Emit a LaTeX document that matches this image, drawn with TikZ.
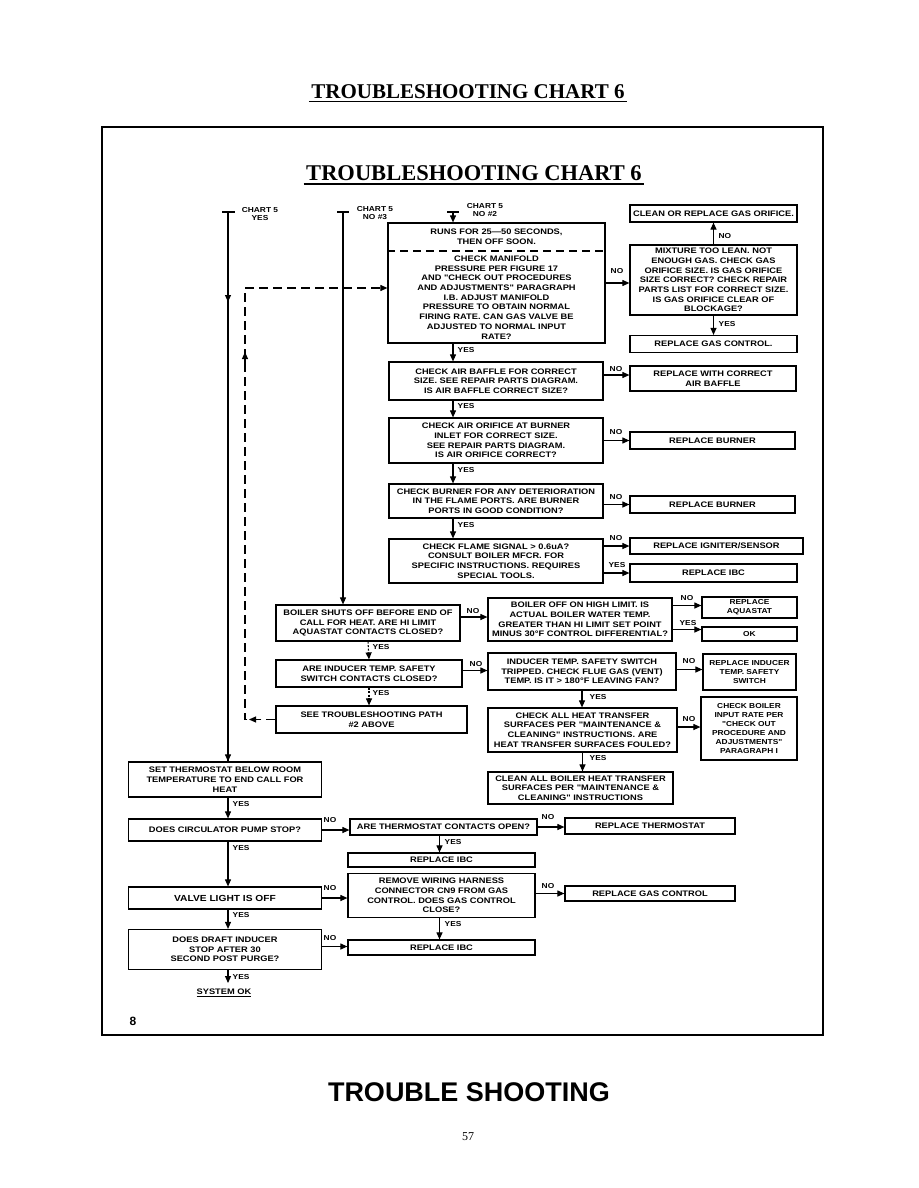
\documentclass[tikz,border=0pt]{standalone}
\usepackage{fontspec}
\setmainfont{Liberation Serif}
\newfontfamily\bxf[FakeStretch=1.16]{Liberation Sans}
\newfontfamily\arialf{Liberation Sans}
\usetikzlibrary{arrows.meta}
\tikzset{
  bx/.style={draw, line width=1.2pt, inner sep=1pt, align=center,
    font=\bxf\bfseries\fontsize{8}{9.7}\selectfont},
  nbx/.style={bx, font=\bxf\bfseries\fontsize{7.2}{9}\selectfont},
  txt/.style={inner sep=0pt, align=center, font=\bxf\bfseries\fontsize{8}{9.7}\selectfont},
  arr/.style={line width=1.05pt, -{Triangle[length=7pt,width=6pt]}},
  ln/.style={line width=1.05pt},
  lbl/.style={inner sep=0.5pt, font=\bxf\bfseries\fontsize{7.2}{8}\selectfont},
}
\begin{document}
\begin{tikzpicture}[x=1pt,y=-1pt]
\useasboundingbox (0,0) rectangle (918,1188);
% page header
\node[font=\bfseries\fontsize{21}{24}\selectfont] (ptitle) at (468,92) {TROUBLESHOOTING CHART 6};
\draw[line width=1.3pt] ([xshift=1pt,yshift=1pt]ptitle.south west) -- ([xshift=-1pt,yshift=1pt]ptitle.south east);
% frame
\draw[line width=1.2pt] (102,127) rectangle (823,1035);
\node[font=\bfseries\fontsize{22.5}{26}\selectfont] (ititle) at (474,173) {TROUBLESHOOTING CHART 6};
\draw[line width=2.4pt] ([xshift=1pt]ititle.south west) -- ([xshift=-1pt]ititle.south east);

% ---------- top-right column ----------
\node[bx, minimum width=217pt, minimum height=120pt] (runs) at (496.5,283) {};
\node[txt] (runsA) at (496.5,237) {RUNS FOR 25—50 SECONDS,\\THEN OFF SOON.};
\node[txt] (runsB) at (496.5,297.5) {CHECK MANIFOLD\\PRESSURE PER FIGURE 17\\AND "CHECK OUT PROCEDURES\\AND ADJUSTMENTS" PARAGRAPH\\I.B. ADJUST MANIFOLD\\PRESSURE TO OBTAIN NORMAL\\FIRING RATE. CAN GAS VALVE BE\\ADJUSTED TO NORMAL INPUT\\RATE?};
\coordinate (sep) at (496.5,251);
\draw[ln, dash pattern=on 8pt off 5pt] (runs.west |- sep) -- (runs.east |- sep);

\node[bx, minimum width=167pt, minimum height=17pt] (clori) at (713.5,213.5) {CLEAN OR REPLACE GAS ORIFICE.};
\node[bx, minimum width=167pt, minimum height=70pt] (mix) at (713.5,280) {MIXTURE TOO LEAN. NOT\\ENOUGH GAS. CHECK GAS\\ORIFICE SIZE. IS GAS ORIFICE\\SIZE CORRECT? CHECK REPAIR\\PARTS LIST FOR CORRECT SIZE.\\IS GAS ORIFICE CLEAR OF\\BLOCKAGE?};
\node[bx, minimum width=167pt, minimum height=17pt] (gasA) at (713.5,344) {REPLACE GAS CONTROL.};

\node[bx, minimum width=214pt, minimum height=38pt] (baffle) at (496,381) {CHECK AIR BAFFLE FOR CORRECT\\SIZE. SEE REPAIR PARTS DIAGRAM.\\IS AIR BAFFLE CORRECT SIZE?};
\node[bx, minimum width=166pt, minimum height=25pt] (repbaf) at (713,378.5) {REPLACE WITH CORRECT\\AIR BAFFLE};
\node[bx, minimum width=214pt, minimum height=45pt] (airori) at (496,440.5) {CHECK AIR ORIFICE AT BURNER\\INLET FOR CORRECT SIZE.\\SEE REPAIR PARTS DIAGRAM.\\IS AIR ORIFICE CORRECT?};
\node[bx, minimum width=165pt, minimum height=17pt] (burA) at (712.5,440.5) {REPLACE BURNER};
\node[bx, minimum width=214pt, minimum height=34pt] (burner) at (496,501) {CHECK BURNER FOR ANY DETERIORATION\\IN THE FLAME PORTS. ARE BURNER\\PORTS IN GOOD CONDITION?};
\node[bx, minimum width=165pt, minimum height=17pt] (burB) at (712.5,504.5) {REPLACE BURNER};
\node[bx, minimum width=214pt, minimum height=44pt] (flame) at (496,561) {CHECK FLAME SIGNAL > 0.6uA?\\CONSULT BOILER MFCR. FOR\\SPECIFIC INSTRUCTIONS. REQUIRES\\SPECIAL TOOLS.};
\node[bx, minimum width=173pt, minimum height=16pt] (ign) at (716.5,546) {REPLACE IGNITER/SENSOR};
\node[bx, minimum width=167pt, minimum height=18pt] (ibcA) at (713.5,573) {REPLACE IBC};

% ---------- middle block ----------
\node[bx, minimum width=184pt, minimum height=36pt] (boiler) at (368,623) {BOILER SHUTS OFF BEFORE END OF\\CALL FOR HEAT. ARE HI LIMIT\\AQUASTAT CONTACTS CLOSED?};
\node[bx, minimum width=184pt, minimum height=43pt] (hilim) at (580,619.5) {BOILER OFF ON HIGH LIMIT. IS\\ACTUAL BOILER WATER TEMP.\\GREATER THAN HI LIMIT SET POINT\\MINUS 30°F CONTROL DIFFERENTIAL?};
\node[nbx, minimum width=95pt, minimum height=21pt] (aqua) at (749.5,607.5) {REPLACE\\AQUASTAT};
\node[nbx, minimum width=95pt, minimum height=14pt] (ok) at (749.5,634) {OK};
\node[bx, minimum width=186pt, minimum height=27pt] (areind) at (369,673.5) {ARE INDUCER TEMP. SAFETY\\SWITCH CONTACTS CLOSED?};
\node[bx, minimum width=188pt, minimum height=37pt] (indtrip) at (582,671.5) {INDUCER TEMP. SAFETY SWITCH\\TRIPPED. CHECK FLUE GAS (VENT)\\TEMP. IS IT > 180°F LEAVING FAN?};
\node[nbx, minimum width=93pt, minimum height=36pt] (repind) at (749.5,672) {REPLACE INDUCER\\TEMP. SAFETY\\SWITCH};
\node[bx, minimum width=191pt, minimum height=27pt] (seets) at (371.5,719.5) {SEE TROUBLESHOOTING PATH\\\#2 ABOVE};
\node[bx, minimum width=189pt, minimum height=44pt] (heat) at (582.5,730) {CHECK ALL HEAT TRANSFER\\SURFACES PER "MAINTENANCE \&\\CLEANING" INSTRUCTIONS. ARE\\HEAT TRANSFER SURFACES FOULED?};
\node[nbx, minimum width=96pt, minimum height=63pt] (chkin) at (749,728.5) {CHECK BOILER\\INPUT RATE PER\\"CHECK OUT\\PROCEDURE AND\\ADJUSTMENTS"\\PARAGRAPH I};
\node[bx, minimum width=185pt, minimum height=32pt] (cleanall) at (580.5,788) {CLEAN ALL BOILER HEAT TRANSFER\\SURFACES PER "MAINTENANCE \&\\CLEANING" INSTRUCTIONS};

% ---------- bottom block ----------
\node[bx, minimum width=193pt, minimum height=35pt] (setth) at (225,779.5) {SET THERMOSTAT BELOW ROOM\\TEMPERATURE TO END CALL FOR\\HEAT};
\node[bx, minimum width=193pt, minimum height=22pt] (circ) at (225,830) {DOES CIRCULATOR PUMP STOP?};
\node[bx, minimum width=187pt, minimum height=16pt] (areth) at (443.5,827) {ARE THERMOSTAT CONTACTS OPEN?};
\node[bx, minimum width=170pt, minimum height=16pt] (repth) at (650,826) {REPLACE THERMOSTAT};
\node[bx, minimum width=187pt, minimum height=14pt] (ibcB) at (441.5,860) {REPLACE IBC};
\node[bx, minimum width=193pt, minimum height=22pt, font=\bxf\bfseries\fontsize{8.8}{10}\selectfont] (valve) at (225,898) {VALVE LIGHT IS OFF};
\node[bx, minimum width=187pt, minimum height=44pt] (remove) at (441.5,895.5) {REMOVE WIRING HARNESS\\CONNECTOR CN9 FROM GAS\\CONTROL. DOES GAS CONTROL\\CLOSE?};
\node[bx, minimum width=170pt, minimum height=15pt] (gasB) at (650,893.5) {REPLACE GAS CONTROL};
\node[bx, minimum width=187pt, minimum height=15pt] (ibcC) at (441.5,947.5) {REPLACE IBC};
\node[bx, minimum width=193pt, minimum height=40pt] (draft) at (225,949.5) {DOES DRAFT INDUCER\\STOP AFTER 30\\SECOND POST PURGE?};
\node[txt] (sysok) at (224,993) {\underline{SYSTEM OK}};
\coordinate (okend) at (228,983);

% ---------- entry lines ----------
\node[lbl, align=center] (c5yes) at (260,214) {CHART 5\\YES};
\node[lbl, align=center] (c5no3) at (375,213) {CHART 5\\NO \#3};
\node[lbl, align=center] (c5no2) at (485,210) {CHART 5\\NO \#2};
\coordinate (ty) at (228,212);
\coordinate (tyarr) at (228,302);
\coordinate (t3) at (343,212);
\coordinate (t2) at (453,212);
\draw[ln] ([xshift=-6pt]ty) -- ([xshift=7pt]ty);
\draw[ln] ([xshift=-6pt]t3) -- ([xshift=6pt]t3);
\draw[ln] ([xshift=-6pt]t2) -- ([xshift=6pt]t2);
\draw[ln] (ty) -- (ty |- setth.north);
\draw[arr] (ty) -- (tyarr);
\draw[arr] ([yshift=20pt]ty |- setth.north) -- (ty |- setth.north);
\draw[arr] (t3) -- (t3 |- boiler.north);
\draw[arr] (t2) -- (t2 |- runs.north);

% dashed return path
\coordinate (dA) at (245,719.5);
\coordinate (dB) at (245,288);
\draw[arr, dash pattern=on 9pt off 5pt] (seets.west) -- (dA) -- (dB) -- (runs.west |- dB);
\draw[arr] (258,719.5) -- (249,719.5);
\draw[arr] (245,370) -- (245,352);

% ---------- connectors: top-right ----------
\draw[arr] (runs.east) -- (runs.east -| mix.west);
\node[lbl] at (617,271) {NO};
\draw[arr] (mix.north) -- (clori.south);
\node[lbl, anchor=west] at (718,236) {NO};
\draw[arr] (mix.south) -- (gasA.north);
\node[lbl, anchor=west] at (718,324) {YES};
\draw[arr] (runs.south -| t2) -- (baffle.north -| t2);
\node[lbl, anchor=west] at (457,350) {YES};
\draw[arr] ([yshift=6pt]baffle.east) -- ([yshift=6pt]baffle.east -| repbaf.west);
\node[lbl] at (616,369) {NO};
\draw[arr] (baffle.south -| t2) -- (airori.north -| t2);
\node[lbl, anchor=west] at (457,406) {YES};
\draw[arr] (airori.east |- burA.west) -- (burA.west);
\node[lbl] at (616,432) {NO};
\draw[arr] (airori.south -| t2) -- (burner.north -| t2);
\node[lbl, anchor=west] at (457,470) {YES};
\draw[arr] (burner.east |- burB.west) -- (burB.west);
\node[lbl] at (616,497) {NO};
\draw[arr] (burner.south -| t2) -- (flame.north -| t2);
\node[lbl, anchor=west] at (457,525) {YES};
\draw[arr] (flame.east |- ign.west) -- (ign.west);
\node[lbl] at (616,538) {NO};
\draw[arr] (flame.east |- ibcA.west) -- (ibcA.west);
\node[lbl] at (617,565) {YES};

% ---------- connectors: middle ----------
\draw[arr] ([yshift=6pt]boiler.east) -- ([yshift=6pt]boiler.east -| hilim.west);
\node[lbl] at (473,611) {NO};
\draw[arr, dash pattern=on 2pt off 1.5pt] (boiler.south) -- (areind.north);
\node[lbl, anchor=west] at (372,647) {YES};
\draw[arr] ([yshift=14pt]hilim.east) -- ([yshift=14pt]hilim.east -| aqua.west);
\node[lbl] at (687,598) {NO};
\draw[arr] ([yshift=-10pt]hilim.east) -- ([yshift=-10pt]hilim.east -| ok.west);
\node[lbl] at (688,623) {YES};
\draw[arr] ([yshift=3pt]areind.east) -- ([yshift=3pt]areind.east -| indtrip.west);
\node[lbl] at (476,664) {NO};
\draw[arr] ([yshift=2pt]indtrip.east) -- ([yshift=2pt]indtrip.east -| repind.west);
\node[lbl] at (689,661) {NO};
\draw[arr, dash pattern=on 2pt off 1.5pt] (areind.south) -- (areind.south |- seets.north);
\node[lbl, anchor=west] at (372,693) {YES};
\draw[arr] (indtrip.south) -- (indtrip.south |- heat.north);
\node[lbl, anchor=west] at (589,697) {YES};
\draw[arr] ([yshift=3pt]heat.east) -- ([yshift=3pt]heat.east -| chkin.west);
\node[lbl] at (689,719) {NO};
\draw[arr] (heat.south) -- (heat.south |- cleanall.north);
\node[lbl, anchor=west] at (589,758) {YES};

% ---------- connectors: bottom ----------
\draw[arr] (setth.south -| ty) -- (circ.north -| ty);
\node[lbl, anchor=west] at (232,804) {YES};
\draw[arr] (circ.east) -- (circ.east -| areth.west);
\node[lbl] at (330,820) {NO};
\draw[arr] (areth.east) -- (areth.east -| repth.west);
\node[lbl] at (548,817) {NO};
\draw[arr] ([xshift=-2pt]ibcB.north |- areth.south) -- ([xshift=-2pt]ibcB.north);
\node[lbl, anchor=west] at (444,842) {YES};
\draw[arr] (circ.south -| ty) -- (valve.north -| ty);
\node[lbl, anchor=west] at (232,848) {YES};
\draw[arr] (valve.east) -- (valve.east -| remove.west);
\node[lbl] at (330,888) {NO};
\draw[arr] (remove.east |- gasB.west) -- (gasB.west);
\node[lbl] at (548,886) {NO};
\draw[arr] ([xshift=-2pt]remove.south) -- ([xshift=-2pt]ibcC.north);
\node[lbl, anchor=west] at (444,924) {YES};
\draw[arr] (valve.south -| ty) -- (draft.north -| ty);
\node[lbl, anchor=west] at (232,915) {YES};
\draw[arr] ([yshift=3pt]draft.east) -- ([yshift=3pt]draft.east -| ibcC.west);
\node[lbl] at (330,938) {NO};
\draw[arr] (draft.south -| okend) -- (okend);
\node[lbl, anchor=west] at (232,977) {YES};

% footer
\node[font=\arialf\bfseries\fontsize{12}{14}\selectfont] (eight) at (133,1021) {8};
\node[font=\arialf\bfseries\fontsize{27}{30}\selectfont] (foot) at (469,1092) {TROUBLE SHOOTING};
\node[font=\fontsize{12}{14}\selectfont] (pnum) at (468,1137) {57};
\end{tikzpicture}
\end{document}
